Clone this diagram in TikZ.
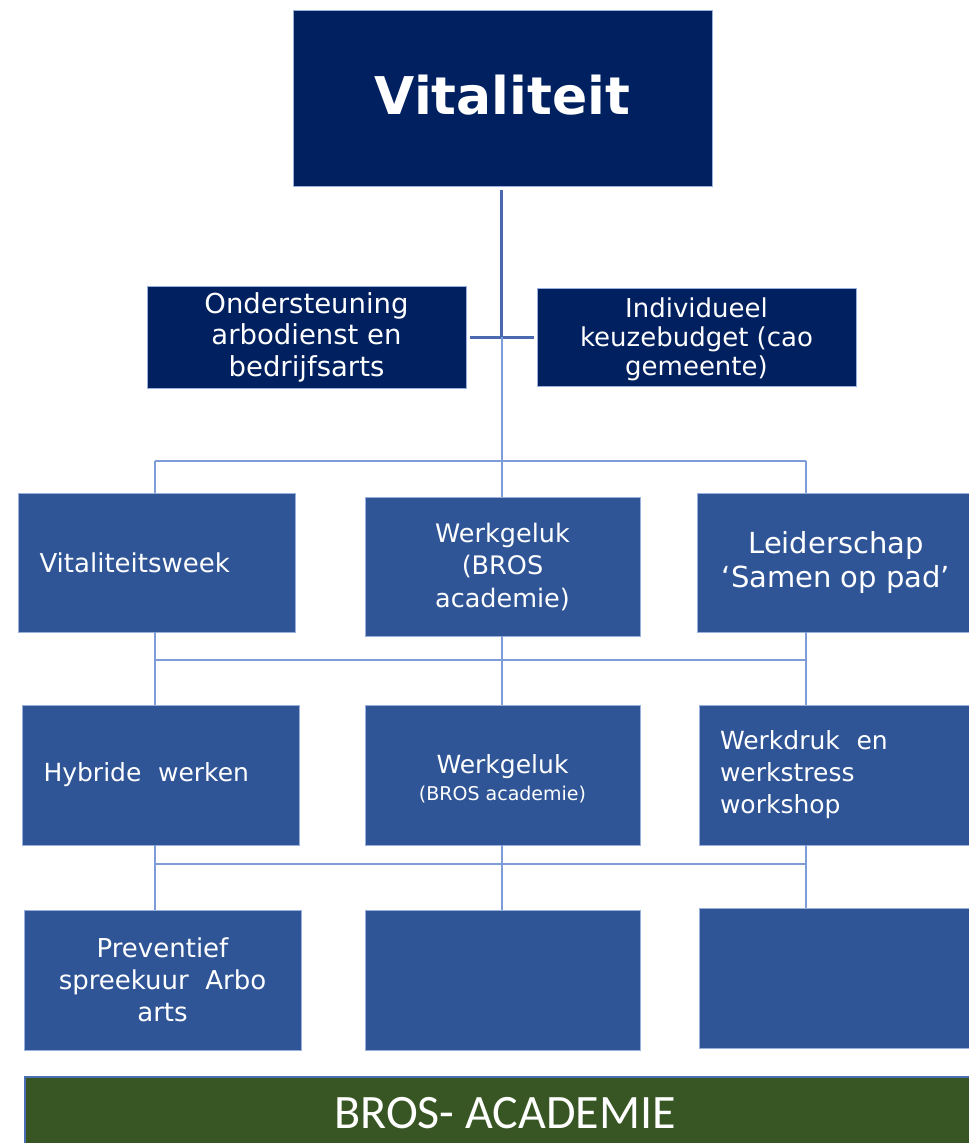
\documentclass[tikz,border=0pt]{standalone}
\usepackage{fontspec}
\setmainfont{DejaVu Sans}
\newfontfamily\carlfont{Carlito}
\definecolor{navy}{HTML}{002060}
\definecolor{midblue}{HTML}{2F5597}
\definecolor{edgeblue}{HTML}{9AB0DC}
\definecolor{darkline}{HTML}{4A69AE}
\definecolor{lightline}{HTML}{7E9DD8}
\definecolor{brosgreen}{HTML}{385623}
\definecolor{brosedge}{HTML}{4A6FB5}
\newcommand{\shiftbox}[2]{\raisebox{#1}[\height][\depth]{#2}}
\begin{document}
\begin{tikzpicture}[x=1pt,y=-1pt,
  box/.style={rectangle, inner sep=0pt, draw=edgeblue, line width=0.8pt, text=white, align=center},
  topbox/.style={box, fill=navy},
  subbox/.style={box, fill=midblue, minimum width=276pt, minimum height=140pt},
  leftbox/.style={subbox, align=left, text width=234pt, inner xsep=21pt},
  txt/.style={font=\fontsize{25}{32}\selectfont},
  darkconn/.style={draw=darkline, line width=3pt},
  lightconn/.style={draw=lightline, line width=2pt}]
\useasboundingbox (0,0) rectangle (969,1143);

% top level
\node[topbox, minimum width=419pt, minimum height=176pt, font=\bfseries\fontsize{52}{60}\selectfont] (vit) at (502.5,98) {\shiftbox{3pt}{Vitaliteit}};
\node[topbox, minimum width=319pt, minimum height=102pt, font=\fontsize{27.5}{31.5}\selectfont] (ond) at (306.5,337) {Ondersteuning\\arbodienst en\\bedrijfsarts};
\node[topbox, minimum width=319pt, minimum height=98pt, font=\fontsize{26}{29}\selectfont] (ind) at (696.5,337) {\shiftbox{-4pt}{\begin{tabular}{@{}c@{}}Individueel\\keuzebudget (cao\\gemeente)\end{tabular}}};

% level 2
\node[leftbox, minimum width=277pt, minimum height=139pt, font=\fontsize{26}{32}\selectfont] (vw) at (156.5,562.5) {Vitaliteitsweek};
\node[subbox, minimum width=275pt, minimum height=139pt, font=\fontsize{25.5}{32.5}\selectfont] (wg1) at (502.5,566.5) {Werkgeluk\\(BROS\\academie)};
\node[subbox, minimum width=278pt, minimum height=139pt, font=\fontsize{29}{34}\selectfont] (ls) at (836,562.5) {Leiderschap\\‘Samen op pad’};

% level 3
\node[leftbox, minimum width=277pt, txt] (hw) at (160.5,775) {Hybride\ \ werken};
\node[subbox, minimum width=275pt, txt] (wg2) at (502.5,775) {\shiftbox{-6pt}{\begin{tabular}{@{}c@{}}Werkgeluk\\[-5pt]{\fontsize{19}{22}\selectfont (BROS academie)}\end{tabular}}};
\node[leftbox, minimum width=276pt, txt] (wd) at (837,775) {Werkdruk\ \ en\\werkstress\\workshop};

% level 4
\node[subbox, minimum width=277pt, font=\fontsize{26}{32}\selectfont] (pv) at (162.5,980) {Preventief\\spreekuur\ \ Arbo\\arts};
\node[subbox, minimum width=275pt] (e1) at (502.5,980) {};
\node[subbox, minimum width=276pt] (e2) at (837,978) {};

% bottom band
\node[rectangle, inner sep=0pt, fill=brosgreen, draw=brosedge, line width=2pt, text=white,
      minimum width=960pt, minimum height=73pt, font=\carlfont\fontsize{48}{56}\selectfont] (bros) at (505,1113.5) {BROS- ACADEMIE};

% connectors
\coordinate (trunk) at (501.5,337);
\coordinate (j1L) at (155,461);
\coordinate (j1R) at (806,461);
\coordinate (j2L) at (155,660);
\coordinate (j2R) at (806,660);
\coordinate (j3L) at (155,864);
\coordinate (j3R) at (806,864);

\draw[darkconn] ([yshift=-4pt]vit.south -| trunk) -- (trunk);
\draw[darkconn] ([xshift=4pt]ond.east) -- ([xshift=-3pt]ind.west);
\draw[lightconn] (trunk) -- (trunk |- wg1.north);

\draw[lightconn] (j1L) -- (j1R);
\draw[lightconn] (j1L) -- (j1L |- vw.north);
\draw[lightconn] (j1R) -- (j1R |- ls.north);

\draw[lightconn] (vw.south -| j2L) -- (j2L |- hw.north);
\draw[lightconn] (wg1.south -| trunk) -- (trunk |- wg2.north);
\draw[lightconn] (ls.south -| j2R) -- (j2R |- wd.north);
\draw[lightconn] (j2L) -- (j2R);

\draw[lightconn] (hw.south -| j3L) -- (j3L |- pv.north);
\draw[lightconn] (wg2.south -| trunk) -- (trunk |- e1.north);
\draw[lightconn] (wd.south -| j3R) -- (j3R |- e2.north);
\draw[lightconn] (j3L) -- (j3R);
\end{tikzpicture}
\end{document}
